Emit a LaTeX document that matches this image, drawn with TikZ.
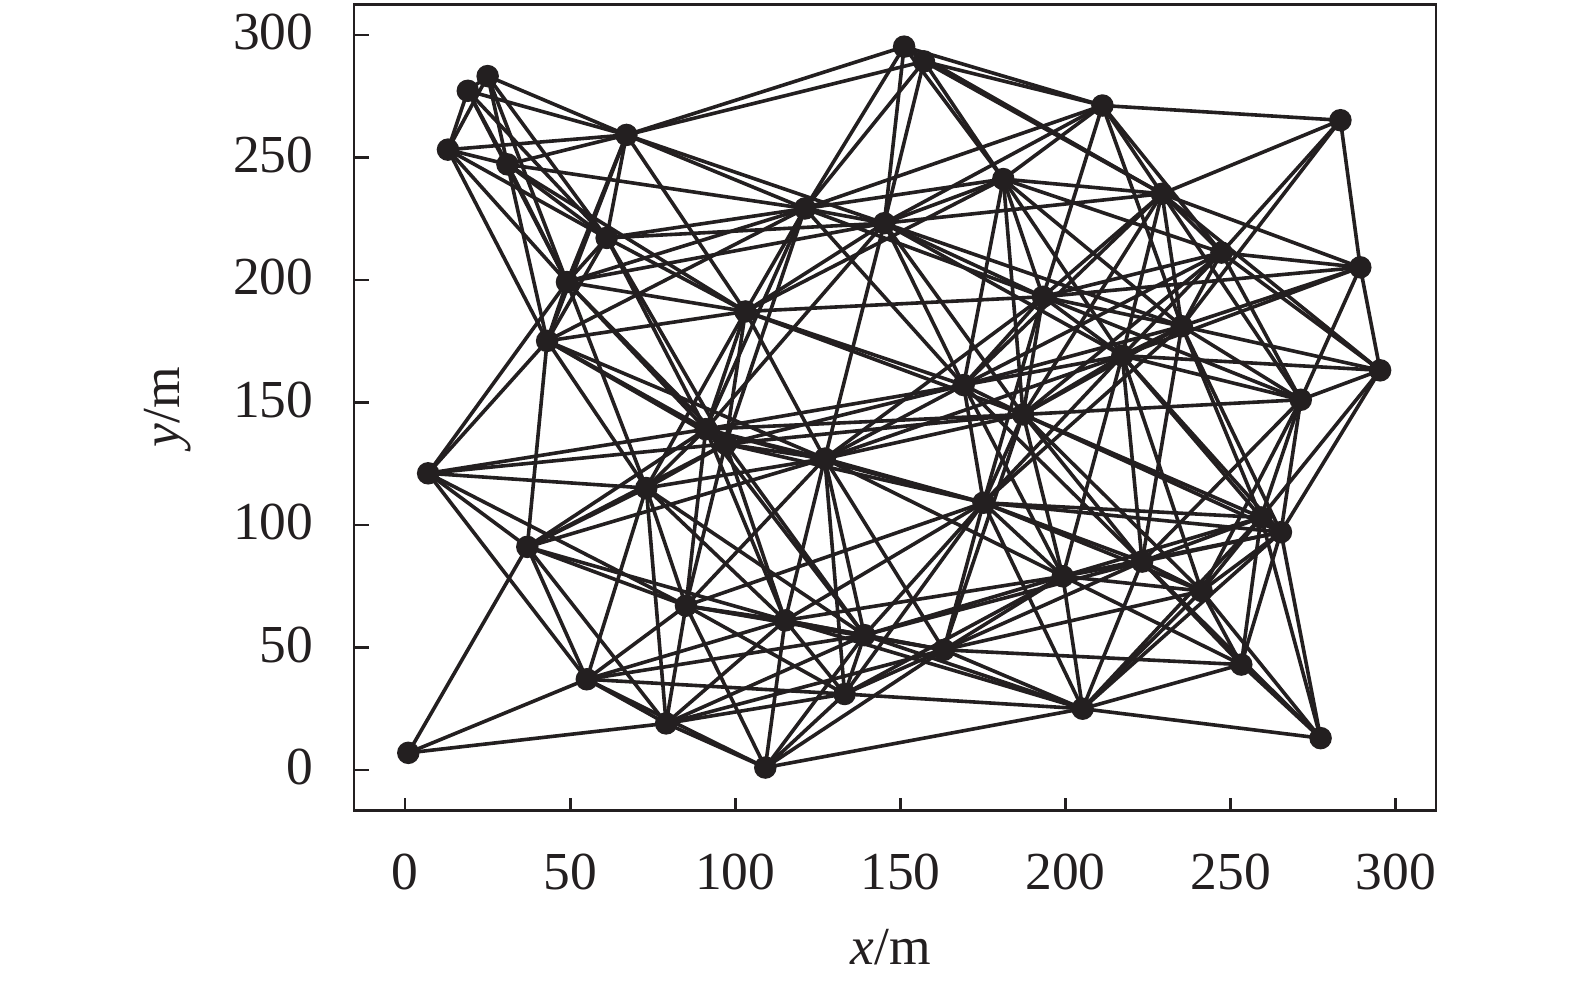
\documentclass[tikz,border=0pt]{standalone}
\usepackage{fontspec}
\setmainfont{Liberation Serif}
\usetikzlibrary{backgrounds}
\definecolor{ink}{RGB}{35,31,32}
\begin{document}
\begin{tikzpicture}[x=0.01cm,y=-0.01cm,
  dot/.style={circle,fill=ink,inner sep=0pt,minimum size=0.225cm},
  edge/.style={draw=ink,line width=0.036cm},
  frame/.style={draw=ink,line width=0.029cm},
  ticklabel/.style={font=\fontsize{15.2pt}{18pt}\selectfont,text=ink,inner sep=0pt}]
\useasboundingbox (0,0) rectangle (1575,988);
\def\Ylist{{7,121,253,277,283,247,91,175,199,37,217,259,115,19,67,139,133,187,1,61,229,127,31,55,223,295,289,49,157,109,241,145,193,79,25,271,169,85,235,181,73,211,43,103,97,151,13,265,205,163}}
\begin{scope}[shift={(405,770)},x=0.03303cm,y=0.0245cm]
\foreach \i in {1,...,50}{
  \pgfmathsetmacro\yy{\Ylist[\i-1]}
  \node[dot] (n\i) at ({1+6*(\i-1)},\yy) {};
}
\end{scope}
\begin{scope}[on background layer]
\foreach \i in {1,...,49}{
  \pgfmathtruncatemacro\ii{\i+1}
  \foreach \j in {\ii,...,50}{
    \pgfmathsetmacro\dd{veclen(6*(\j-\i),\Ylist[\j-1]-\Ylist[\i-1])}
    \ifdim\dd pt<100pt \draw[edge] (n\i.center) -- (n\j.center);\fi
  }
}
\end{scope}
\draw[frame] (354,4.5) rectangle (1436,810.5);
\foreach \v in {0,50,...,300}{
  \draw[frame] (354,{770-2.45*\v}) -- ++(15,0);
  \node[ticklabel,anchor=east] (yl\v) at (314,{767-2.45*\v}) {\v};
  \draw[frame] ({405+3.303*\v},810.5) -- ++(0,-13);
  \node[ticklabel] (xl\v) at ({405+3.303*\v},872) {\v};
}
\node[ticklabel] (xlab) at (891,947) {\textit{x}/m};
\node[ticklabel,rotate=90] (ylab) at (168,407) {\textit{y}/m};
\end{tikzpicture}
\end{document}
